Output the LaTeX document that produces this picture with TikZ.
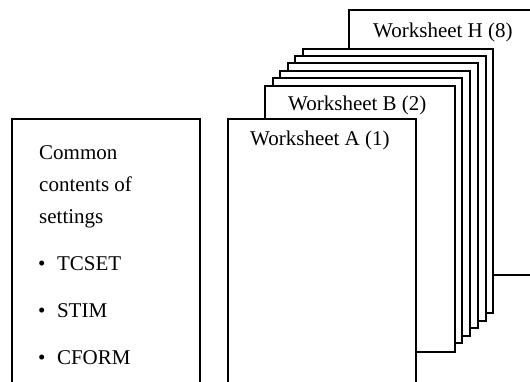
\documentclass[tikz,border=0pt]{standalone}
\usepackage{fontspec}
\setmainfont{Liberation Serif}
\begin{document}
\begin{tikzpicture}[x=1pt,y=-1pt,
  page/.style={draw=black,fill=white,line width=1.4pt},
  lbl/.style={anchor=base west,inner sep=0pt,font=\fontsize{21}{25}\selectfont}]
\clip (0,0) rectangle (530,381);
\fill[white] (0,0) rectangle (530,381);
% stack of worksheets, back to front
\draw[page] (349,10) rectangle (545,275);
\draw[page] (303,49) rectangle (493,313);
\draw[page] (295,56) rectangle (486,321);
\draw[page] (288,63) rectangle (478,328);
\draw[page] (280,71) rectangle (470,336);
\draw[page] (273,78) rectangle (462,343);
\draw[page] (265,86) rectangle (455,352);
\draw[page] (228,119) rectangle (416,400);
% left box
\draw[page] (12,119) rectangle (200,400);
% labels
\node[lbl] (wh) at (373,37) {Worksheet H (8)};
\node[lbl] (wb) at (288,110) {Worksheet B (2)};
\node[lbl] (wa) at (250,145) {Worksheet A (1)};
\node[lbl] (t1) at (39,159) {Common};
\node[lbl] (t2) at (39,191) {contents of};
\node[lbl] (t3) at (39,223) {settings};
\node[lbl] (b1) at (38,270) {\textbullet\hspace{11.5pt}TCSET};
\node[lbl] (b2) at (38,317) {\textbullet\hspace{11.5pt}STIM};
\node[lbl] (b3) at (38,364) {\textbullet\hspace{11.5pt}CFORM};
\end{tikzpicture}
\end{document}
